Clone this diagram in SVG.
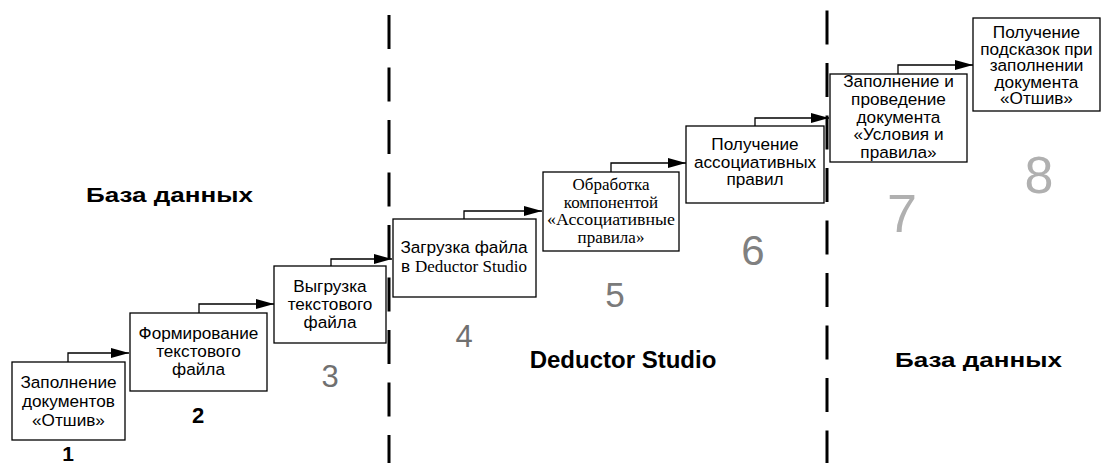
<svg xmlns="http://www.w3.org/2000/svg" width="1101" height="463" viewBox="0 0 1101 463">
<style>
.box{fill:#fff;stroke:#000;stroke-width:1.3}
.t{font-family:"Liberation Sans",Arial,sans-serif;font-size:17.2px;fill:#000;text-anchor:middle}
.s{font-family:"Liberation Serif","Times New Roman",serif;font-size:17px;fill:#000;text-anchor:middle}
.conn{fill:none;stroke:#000;stroke-width:1.3}
.dash{stroke:#000;stroke-width:3;stroke-dasharray:34 18.5}
.big{font-family:"Liberation Sans",Arial,sans-serif;font-weight:bold;fill:#000;text-anchor:middle}
.num{font-family:"Liberation Sans",Arial,sans-serif;text-anchor:middle}
</style>
<defs>
<marker id="ah" markerUnits="userSpaceOnUse" markerWidth="19" markerHeight="10" refX="18" refY="5" orient="auto">
<path d="M0,0 L18,5 L0,10 z" fill="#000"/>
</marker>
</defs>
<rect width="1101" height="463" fill="#fff"/>
<g id="dividers">
<line class="dash" x1="389" y1="15" x2="389" y2="463"/>
<line class="dash" x1="827" y1="10.5" x2="827" y2="463"/>
</g>
<g id="connectors">
<path class="conn" d="M68,362 V353 H129" marker-end="url(#ah)"/>
<path class="conn" d="M199,313 V304 H274" marker-end="url(#ah)"/>
<path class="conn" d="M331,266 V259 H392" marker-end="url(#ah)"/>
<path class="conn" d="M464,219 V211 H542" marker-end="url(#ah)"/>
<path class="conn" d="M611,172 V163 H686" marker-end="url(#ah)"/>
<path class="conn" d="M755,126 V118 H829" marker-end="url(#ah)"/>
<path class="conn" d="M898,74 V65 H973" marker-end="url(#ah)"/>
</g>
<g id="n1">
<rect class="box" x="12" y="362" width="113" height="78"/>
<text class="t" x="68.5" y="388">Заполнение</text>
<text class="t" x="68.5" y="407">документов</text>
<text class="t" x="68.5" y="426">«Отшив»</text>
<text class="big" x="68" y="461" font-size="21">1</text>
</g>
<g id="n2">
<rect class="box" x="130" y="313" width="137" height="78"/>
<text class="t" x="198.5" y="339">Формирование</text>
<text class="t" x="198.5" y="357">текстового</text>
<text class="t" x="198.5" y="375">файла</text>
<text class="big" x="198" y="423" font-size="22">2</text>
</g>
<g id="n3">
<rect class="box" x="274" y="266" width="112" height="77"/>
<text class="t" x="330" y="292">Выгрузка</text>
<text class="t" x="330" y="310">текстового</text>
<text class="t" x="330" y="328">файла</text>
<text class="num" x="330" y="387" font-size="31" fill="#707070">3</text>
</g>
<g id="n4">
<rect class="box" x="393" y="219" width="143" height="78"/>
<text class="t" x="464" y="253">Загрузка файла</text>
<text class="t" x="464" y="272">в <tspan font-family="Liberation Serif, Times New Roman, serif" font-size="17">Deductor Studio</tspan></text>
<text class="num" x="464" y="347" font-size="31" fill="#707070">4</text>
</g>
<g id="n5">
<rect class="box" x="543" y="172" width="136" height="79"/>
<text class="s" x="611" y="190">Обработка</text>
<text class="s" x="611" y="207.5">компонентой</text>
<text class="s" x="611" y="225" textLength="128" lengthAdjust="spacingAndGlyphs">«Ассоциативные</text>
<text class="s" x="611" y="242.5">правила»</text>
<text class="num" x="615" y="307" font-size="35" fill="#7a7a7a">5</text>
</g>
<g id="n6">
<rect class="box" x="686" y="126" width="138" height="77"/>
<text class="t" x="755" y="150">Получение</text>
<text class="t" x="755" y="168">ассоциативных</text>
<text class="t" x="755" y="185">правил</text>
<text class="num" x="753" y="265" font-size="42" fill="#808080">6</text>
</g>
<g id="n7">
<rect class="box" x="830" y="74" width="137" height="88"/>
<text class="t" x="898.5" y="87">Заполнение и</text>
<text class="t" x="898.5" y="105">проведение</text>
<text class="t" x="898.5" y="122.5">документа</text>
<text class="t" x="898.5" y="140">«Условия и</text>
<text class="t" x="898.5" y="157.5">правила»</text>
<text class="num" x="902" y="232" font-size="54" fill="#b0b0b0">7</text>
</g>
<g id="n8">
<rect class="box" x="973" y="18" width="127" height="93"/>
<text class="t" x="1036.5" y="38">Получение</text>
<text class="t" x="1036.5" y="55">подсказок при</text>
<text class="t" x="1036.5" y="71">заполнении</text>
<text class="t" x="1036.5" y="88">документа</text>
<text class="t" x="1036.5" y="104">«Отшив»</text>
<text class="num" x="1039" y="193" font-size="52" fill="#b0b0b0">8</text>
</g>
<g id="labels">
<text class="big" x="169.5" y="202" font-size="21" textLength="167" lengthAdjust="spacingAndGlyphs">База данных</text>
<text class="big" x="623" y="368" font-size="24">Deductor Studio</text>
<text class="big" x="978.5" y="367" font-size="21" textLength="167" lengthAdjust="spacingAndGlyphs">База данных</text>
</g>
</svg>
